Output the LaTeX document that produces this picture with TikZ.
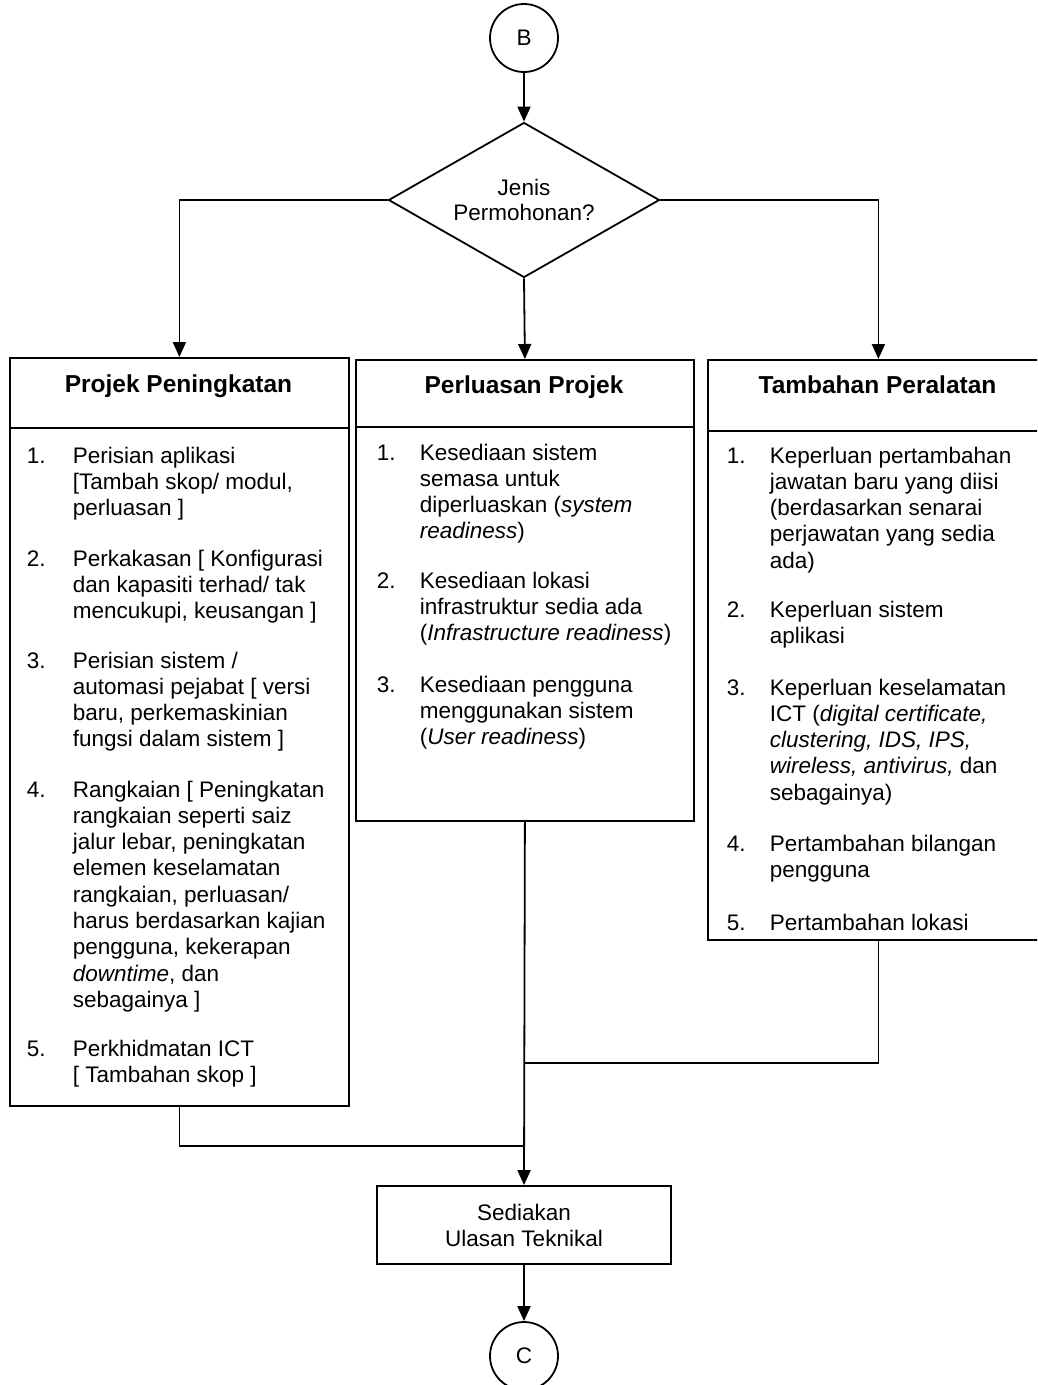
\documentclass[tikz,border=0pt]{standalone}
\usepackage{fontspec}
\setmainfont{Liberation Sans}
\usetikzlibrary{shapes.geometric,arrows.meta}
\newcommand{\bodyf}{\fontsize{22.5}{26.3}\selectfont}
\newcommand{\bodym}{\fontsize{22.5}{26}\selectfont}
\newcommand{\headf}{\fontsize{24.5}{29}\selectfont\bfseries}
\begin{document}
\begin{tikzpicture}[x=1pt,y=-1pt,line width=1.8pt,
  arr/.style={-{Triangle[length=15pt,width=13pt]}},
  circ/.style={draw,circle,minimum size=68pt,inner sep=0pt,font=\bodyf},
  dia/.style={draw,diamond,shape aspect=1.75,minimum width=271pt,minimum height=155pt,inner sep=0pt,font=\fontsize{22.5}{25}\selectfont,align=center},
  bigbox/.style={draw,rectangle,anchor=north west,inner sep=0pt},
  procbox/.style={draw,rectangle,inner sep=0pt,minimum width=294pt,minimum height=78pt,font=\fontsize{22.5}{26}\selectfont,align=center},
  head/.style={anchor=base,inner sep=0pt,font=\headf},
  num/.style={anchor=base west,inner sep=0pt,font=\bodyf},
  txt/.style={anchor=base west,inner sep=0pt,font=\bodyf,align=left},
  txtm/.style={anchor=base west,inner sep=0pt,font=\bodym,align=left}]
\useasboundingbox (0,0) rectangle (1037,1385);
\clip (0,0) rectangle (1037,1385);

% main nodes
\node[circ] (B) at (524,38) {B};
\node[dia] (D) at (524,200) {Jenis\\Permohonan?};

\node[bigbox,minimum width=339pt,minimum height=748pt] (L) at (9,357) {};
\node[bigbox,minimum width=338pt,minimum height=461pt] (M) at (355,359) {};
\node[bigbox,minimum width=341pt,minimum height=580pt] (R) at (707,359) {};

\coordinate (Ldl) at (9,428);  \coordinate (Ldr) at (348,428);
\coordinate (Mdl) at (355,427); \coordinate (Mdr) at (693,427);
\coordinate (Rdl) at (707,431); \coordinate (Rdr) at (1048,431);
\draw (Ldl) -- (Ldr);
\draw (Mdl) -- (Mdr);
\draw (Rdl) -- (Rdr);

\node[procbox] (S) at (524,1225) {Sediakan\\Ulasan Teknikal};
\node[circ] (C) at (524,1356) {C};

% headings
\node[head] (Lh) at (178.5,392) {Projek Peningkatan};
\node[head] (Mh) at (524,393) {Perluasan Projek};
\node[head] (Rh) at (877.5,393) {Tambahan Peralatan};

% left box items (text nodes placed at the baseline of their last line)
\node[num] (L1n) at (26,463) {1.};
\node[txt] (L1t) at (72,{463+2*26.3}) {Perisian aplikasi\\{}[Tambah skop/ modul,\\perluasan ]};
\node[num] (L2n) at (26,566) {2.};
\node[txt] (L2t) at (72,{566+2*26.3}) {Perkakasan [ Konfigurasi\\dan kapasiti terhad/ tak\\mencukupi, keusangan ]};
\node[num] (L3n) at (26,668) {3.};
\node[txt] (L3t) at (72,{668+3*26.3}) {Perisian sistem /\\automasi pejabat [ versi\\baru, perkemaskinian\\fungsi dalam sistem ]};
\node[num] (L4n) at (26,797) {4.};
\node[txt] (L4t) at (72,{797+8*26.3}) {Rangkaian [ Peningkatan\\rangkaian seperti saiz\\jalur lebar, peningkatan\\elemen keselamatan\\rangkaian, perluasan/\\harus berdasarkan kajian\\pengguna, kekerapan\\\textit{downtime}, dan\\sebagainya ]};
\node[num] (L5n) at (26,1056) {5.};
\node[txt] (L5t) at (72,{1056+26.3}) {Perkhidmatan ICT\\{}[ Tambahan skop ]};

% middle box items
\node[num] (M1n) at (376,460) {1.};
\node[txtm] (M1t) at (419,{460+3*26}) {Kesediaan sistem\\semasa untuk\\diperluaskan (\textit{system}\\\textit{readiness})};
\node[num] (M2n) at (376,588) {2.};
\node[txtm] (M2t) at (419,{588+2*26}) {Kesediaan lokasi\\infrastruktur sedia ada\\(\textit{Infrastructure readiness})};
\node[num] (M3n) at (376,692) {3.};
\node[txtm] (M3t) at (419,{692+2*26}) {Kesediaan pengguna\\menggunakan sistem\\(\textit{User readiness})};

% right box items
\node[num] (R1n) at (726,463) {1.};
\node[txt] (R1t) at (769,{463+4*26.3}) {Keperluan pertambahan\\jawatan baru yang diisi\\(berdasarkan senarai\\perjawatan yang sedia\\ada)};
\node[num] (R2n) at (726,617) {2.};
\node[txt] (R2t) at (769,{617+26.3}) {Keperluan sistem\\aplikasi};
\node[num] (R3n) at (726,695) {3.};
\node[txt] (R3t) at (769,{695+4*26.3}) {Keperluan keselamatan\\ICT (\textit{digital certificate,}\\\textit{clustering, IDS, IPS,}\\\textit{wireless, antivirus,} dan\\sebagainya)};
\node[num] (R4n) at (726,851) {4.};
\node[txt] (R4t) at (769,{851+26.3}) {Pertambahan bilangan\\pengguna};
\node[num] (R5n) at (726,930) {5.};
\node[txt] (R5t) at (769,930) {Pertambahan lokasi};

% connectors
\coordinate (jR) at (524,1063);
\coordinate (jL) at (524,1146);
\draw[arr] (B.south) -- (D.north);
\draw[arr] (D.west) -| (L.north);
\draw[arr] (D.east) -| (R.north);
\draw[arr] (D.south) -- (M.north);
\draw[arr] (M.south) -- (S.north);
\draw (R.south) |- (jR);
\draw (L.south) |- (jL);
\draw[arr] (S.south) -- (C.north);
\end{tikzpicture}
\end{document}
